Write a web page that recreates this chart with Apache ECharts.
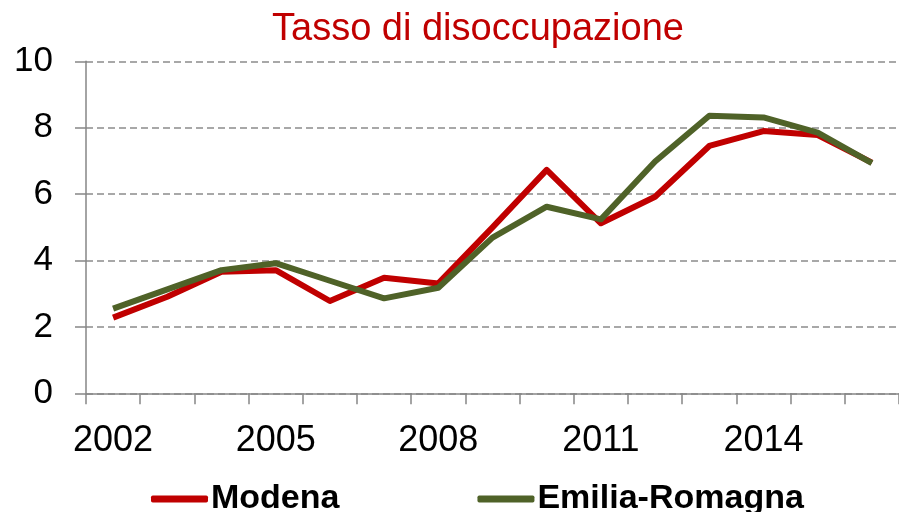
<!DOCTYPE html>
<html>
<head>
<meta charset="utf-8">
<script src="https://cdn.jsdelivr.net/npm/echarts@6/dist/echarts.min.js"></script>
<style>
  html, body { margin: 0; padding: 0; background: #fff; }
  #main { width: 899px; height: 512px; }
</style>
</head>
<body>
<div id="main"></div>
<script>
// anni e tassi di disoccupazione (%)
const years = ['2002', '2003', '2004', '2005', '2006', '2007', '2008', '2009',
  '2010', '2011', '2012', '2013', '2014', '2015', '2016'];
const modena = [2.28, 2.91, 3.66, 3.71, 2.78, 3.48, 3.31, 5.0, 6.73, 5.12, 5.92, 7.45, 7.9, 7.78, 6.95];
const emiliaRomagna = [2.55, 3.13, 3.71, 3.92, 3.39, 2.86, 3.18, 4.69, 5.62, 5.24, 6.98, 8.36, 8.31, 7.85, 6.93];
const yTicks = [0, 2, 4, 6, 8, 10];

const font = 'Liberation Sans, Arial, sans-serif';
const axisGrey = '#868686';

const chart = echarts.init(document.getElementById('main'));

chart.setOption({
  animation: false,
  backgroundColor: '#fff',
  title: {
    text: 'Tasso di disoccupazione',
    left: 267,
    top: 6,
    textStyle: { color: '#C00000', fontFamily: font, fontSize: 38, fontWeight: 'normal' }
  },
  legend: {
    left: 146,
    top: 477,
    itemWidth: 57,
    itemHeight: 7,
    itemGap: 138,
    icon: 'roundRect',
    textStyle: { fontFamily: font, fontSize: 34, fontWeight: 'bold', color: '#000', padding: [0, 0, 0, -2] },
    data: ['Modena', 'Emilia-Romagna']
  },
  grid: { left: 86, top: 61.3, right: -16.5, bottom: 118.7, containLabel: false },
  xAxis: {
    type: 'category',
    data: years,
    boundaryGap: true,
    axisLine: { show: true, lineStyle: { color: axisGrey, width: 1.5 } },
    axisTick: { show: true, interval: 0, length: 11, lineStyle: { color: axisGrey, width: 1.5 } },
    axisLabel: { interval: 2, margin: 30, color: '#000', fontFamily: font, fontSize: 36 }
  },
  yAxis: {
    type: 'value',
    min: yTicks[0],
    max: yTicks[yTicks.length - 1],
    interval: 2,
    axisLine: { show: true, lineStyle: { color: axisGrey, width: 1.5 } },
    axisTick: { show: true, length: 11, lineStyle: { color: axisGrey, width: 1.5 } },
    axisLabel: { margin: 33, color: '#000', fontFamily: font, fontSize: 35 },
    splitLine: { lineStyle: { color: '#8c8c8c', width: 1.5, type: [7, 4] } }
  },
  series: [
    {
      name: 'Modena',
      type: 'line',
      data: modena,
      symbol: 'none',
      color: '#C00000',
      lineStyle: { width: 6, color: '#C00000', join: 'round' },
      z: 2
    },
    {
      name: 'Emilia-Romagna',
      type: 'line',
      data: emiliaRomagna,
      symbol: 'none',
      color: '#4F6228',
      lineStyle: { width: 6, color: '#4F6228', join: 'round' },
      z: 3
    }
  ]
});
</script>
</body>
</html>
